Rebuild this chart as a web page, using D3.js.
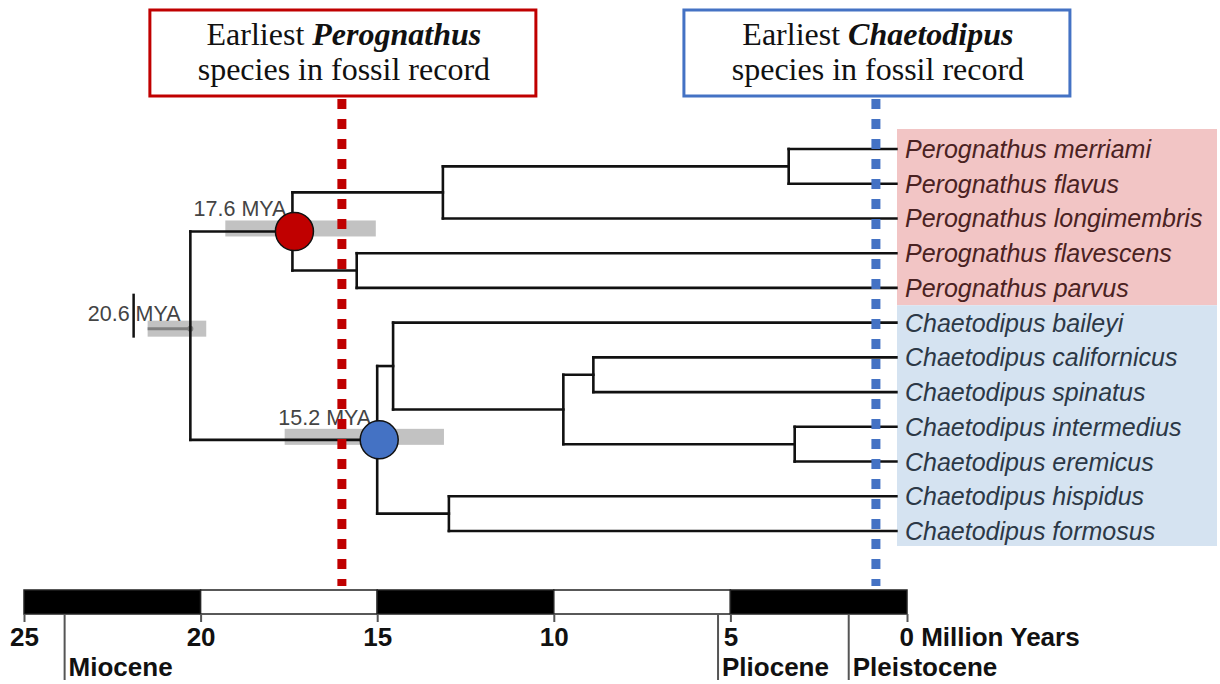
<!DOCTYPE html>
<html>
<head>
<meta charset="utf-8">
<script src="https://cdn.jsdelivr.net/npm/d3@7"></script>
<style>
  body { margin: 0; background: #fff; }
  .tip { font-family: "Liberation Sans", Arial, sans-serif; font-style: italic; font-size: 25px; }
  .mya { font-family: "Liberation Sans", Arial, sans-serif; font-size: 21.5px; fill: #444; }
  .title { font-family: "Liberation Serif", "Times New Roman", serif; font-size: 32px; fill: #111; }
  .axis text, .epoch { font-family: "Liberation Sans", Arial, sans-serif; font-weight: bold; font-size: 26px; fill: #111; }
</style>
</head>
<body>
<div id="chart"></div>
<script>
var svgWidth = 1220;
var svgHeight = 684;

// tips, top to bottom
var taxa = [
  "Perognathus merriami", "Perognathus flavus", "Perognathus longimembris",
  "Perognathus flavescens", "Perognathus parvus",
  "Chaetodipus baileyi", "Chaetodipus californicus", "Chaetodipus spinatus",
  "Chaetodipus intermedius", "Chaetodipus eremicus",
  "Chaetodipus hispidus", "Chaetodipus formosus"
];
var tipAge = 0.3;

// internal nodes (ages in million years)
var cladeIds  = ["root", "P", "P1", "P1a", "P2", "C", "C1", "C1a", "C1b", "C1c", "C2"];
var cladeAges = [20.29, 17.4, 13.14, 3.35, 15.58, 15.0, 14.55, 9.73, 8.88, 3.18, 12.97];
var cladeKids = [
  ["P", "C"],
  ["P1", "P2"],
  ["P1a", "Perognathus longimembris"],
  ["Perognathus merriami", "Perognathus flavus"],
  ["Perognathus flavescens", "Perognathus parvus"],
  ["C1", "C2"],
  ["Chaetodipus baileyi", "C1a"],
  ["C1b", "C1c"],
  ["Chaetodipus californicus", "Chaetodipus spinatus"],
  ["Chaetodipus intermedius", "Chaetodipus eremicus"],
  ["Chaetodipus hispidus", "Chaetodipus formosus"]
];

// dated nodes with their credible intervals
var hpdNodes  = ["root", "P", "C"];
var hpdLabels = ["20.6 MYA", "17.6 MYA", "15.2 MYA"];
var hpdOld    = [21.5, 19.3, 17.62];
var hpdYoung  = [19.84, 15.04, 13.11];

// earliest fossils
var fossilGenera = ["Perognathus", "Chaetodipus"];
var fossilAges   = [16.0, 0.88];
var genusColors  = { Perognathus: "#c00000", Chaetodipus: "#4472c4" };
var genusFill    = { Perognathus: "#f2c5c5", Chaetodipus: "#d5e3f1" };
var genusText    = { Perognathus: "#4a2222", Chaetodipus: "#2c3846" };
var nodeGenus    = { P: "Perognathus", C: "Chaetodipus" };

// time scale
var timeTicks   = [25, 20, 15, 10, 5, 0];
var epochNames  = ["Miocene", "Pliocene", "Pleistocene"];
var epochStarts = [23.85, 5.35, 1.65];

var svg = d3.select("#chart")
  .append("svg")
  .attr("width", svgWidth)
  .attr("height", svgHeight);

var x = d3.scaleLinear().domain([25, 0]).range([24, 907]);
var y = d3.scaleLinear().domain([0, taxa.length - 1]).range([149, 531]);

// build node positions
var age = {}, kids = {}, pos = {};
cladeIds.forEach(function(id, i) { age[id] = cladeAges[i]; kids[id] = cladeKids[i]; });
taxa.forEach(function(t, i) { age[t] = tipAge; pos[t] = y(i); });
function place(id) {
  if (pos[id] !== undefined) return pos[id];
  var ys = kids[id].map(place);
  pos[id] = d3.mean(ys);
  return pos[id];
}
place("root");

// label backgrounds
var groups = ["Perognathus", "Chaetodipus"];
groups.forEach(function(g) {
  var idx = taxa.map(function(t, i) { return t.indexOf(g) === 0 ? i : -1; }).filter(function(i) { return i >= 0; });
  var top = d3.min(idx) === 0 ? y(0) - 20 : y(d3.min(idx) - 0.5);
  var bot = d3.max(idx) === taxa.length - 1 ? y(d3.max(idx)) + 15 : y(d3.max(idx) + 0.5);
  svg.append("rect")
    .attr("x", 897).attr("y", top)
    .attr("width", 320).attr("height", bot - top)
    .attr("fill", genusFill[g]);
});

// HPD bars
var hpdG = svg.append("g");
hpdNodes.forEach(function(id, i) {
  var by = pos[id] + (id === "root" ? -7 : -3);
  hpdG.append("rect")
    .attr("x", x(hpdOld[i])).attr("y", by - 8)
    .attr("width", x(hpdYoung[i]) - x(hpdOld[i])).attr("height", 16)
    .attr("fill", "#c2c2c2");
  if (id === "root") {
    hpdG.append("line")
      .attr("x1", x(hpdOld[i])).attr("x2", x(age[id]))
      .attr("y1", by).attr("y2", by)
      .attr("stroke", "#808080").attr("stroke-width", 3);
    hpdG.append("circle")
      .attr("cx", x(age[id])).attr("cy", by).attr("r", 3).attr("fill", "#808080");
    var parts = hpdLabels[i].split(" ");
    var lx = x(hpdOld[i]);
    hpdG.append("text").attr("class", "mya")
      .attr("x", lx - 18).attr("y", by - 8).attr("text-anchor", "end").text(parts[0]);
    hpdG.append("line")
      .attr("x1", lx - 14).attr("x2", lx - 14)
      .attr("y1", by - 35).attr("y2", by + 9)
      .attr("stroke", "#111").attr("stroke-width", 2.5);
    hpdG.append("text").attr("class", "mya")
      .attr("x", lx - 12).attr("y", by - 8).text(parts[1]);
  } else {
    hpdG.append("text").attr("class", "mya")
      .attr("x", x(age[id]) - 6).attr("y", by - 12)
      .attr("text-anchor", "end").text(hpdLabels[i]);
  }
});

// tree branches
var tree = svg.append("g")
  .attr("stroke", "#111").attr("stroke-width", 2.6)
  .attr("stroke-linecap", "square").attr("fill", "none");
cladeIds.forEach(function(id) {
  var ys = kids[id].map(function(k) { return pos[k]; });
  tree.append("line")
    .attr("x1", x(age[id])).attr("x2", x(age[id]))
    .attr("y1", d3.min(ys)).attr("y2", d3.max(ys));
  kids[id].forEach(function(k) {
    tree.append("line")
      .attr("x1", x(age[id])).attr("x2", x(age[k]))
      .attr("y1", pos[k]).attr("y2", pos[k]);
  });
});

// fossil lines and boxes
fossilGenera.forEach(function(g, i) {
  var fx = x(fossilAges[i]);
  svg.append("line")
    .attr("x1", fx).attr("x2", fx)
    .attr("y1", 99).attr("y2", 586)
    .attr("stroke", genusColors[g]).attr("stroke-width", 9)
    .attr("stroke-dasharray", "10,10");
  svg.append("rect")
    .attr("x", fx - 192).attr("y", 10)
    .attr("width", 386).attr("height", 86)
    .attr("fill", "#fff")
    .attr("stroke", genusColors[g]).attr("stroke-width", 3);
  var t1 = svg.append("text").attr("class", "title")
    .attr("x", fx + 2).attr("y", 45).attr("text-anchor", "middle");
  t1.append("tspan").text("Earliest ");
  t1.append("tspan").attr("font-weight", "bold").attr("font-style", "italic").text(g);
  svg.append("text").attr("class", "title")
    .attr("x", fx + 2).attr("y", 80).attr("text-anchor", "middle")
    .text("species in fossil record");
});

// node circles
Object.keys(nodeGenus).forEach(function(id) {
  svg.append("circle")
    .attr("cx", x(age[id]) + 2).attr("cy", pos[id]).attr("r", 19)
    .attr("fill", genusColors[nodeGenus[id]])
    .attr("stroke", "#111").attr("stroke-width", 1.5);
});

// tip labels
svg.selectAll(".tip")
  .data(taxa)
  .enter()
  .append("text")
  .attr("class", "tip")
  .attr("x", 905)
  .attr("y", function(d, i) { return y(i); })
  .attr("dy", "0.36em")
  .attr("fill", function(d) { return genusText[d.split(" ")[0]]; })
  .text(function(d) { return d; });

// time bar
var barTop = 590, barBot = 614;
d3.pairs(timeTicks).forEach(function(p, i) {
  svg.append("rect")
    .attr("x", x(p[0])).attr("y", barTop)
    .attr("width", x(p[1]) - x(p[0])).attr("height", barBot - barTop)
    .attr("fill", i % 2 === 0 ? "#000" : "#fff")
    .attr("stroke", "#222").attr("stroke-width", 1.5);
});

var axis = svg.append("g")
  .attr("class", "axis")
  .attr("transform", "translate(0," + barBot + ")")
  .call(d3.axisBottom(x).tickValues(timeTicks).tickSize(8).tickFormat(function(d) {
    return d === 0 ? "0 Million Years" : d;
  }));
axis.select(".domain").remove();
axis.selectAll("line").attr("stroke", "#555").attr("stroke-width", 2);
axis.selectAll("text").attr("y", 14).attr("font-size", null).attr("font-family", null);
axis.selectAll(".tick").filter(function(d) { return d === 0; })
  .select("text").attr("text-anchor", "start").attr("x", -8);

// epochs
epochNames.forEach(function(name, i) {
  var ex = x(epochStarts[i]);
  svg.append("line")
    .attr("x1", ex).attr("x2", ex)
    .attr("y1", barBot).attr("y2", 680)
    .attr("stroke", "#555").attr("stroke-width", 2);
  svg.append("text").attr("class", "epoch")
    .attr("x", ex + 4).attr("y", 676).text(name);
});
</script>
</body>
</html>
